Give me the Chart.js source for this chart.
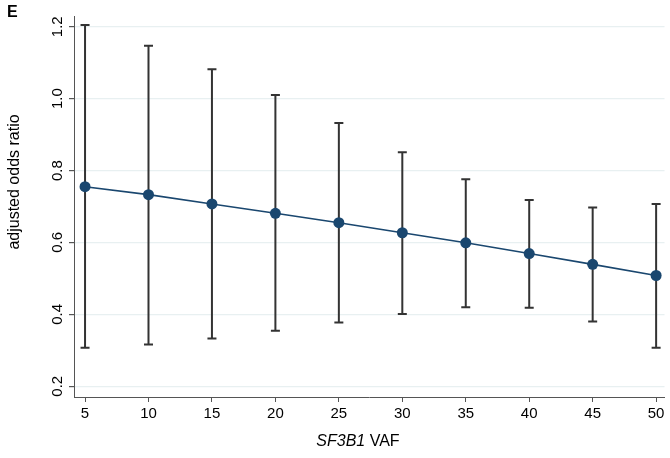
<!DOCTYPE html>
<html>
<head>
<meta charset="utf-8">
<script src="https://cdn.jsdelivr.net/npm/chart.js@4/dist/chart.umd.min.js"></script>
<style>
  body { margin: 0; background: #fff; }
  #wrap { width: 670px; height: 458px; position: relative; }
</style>
</head>
<body>
<div id="wrap"><canvas id="or-chart"></canvas></div>
<script>
// values
var vaf = [5, 10, 15, 20, 25, 30, 35, 40, 45, 50];
var oddsRatio = [0.755, 0.733, 0.707, 0.681, 0.655, 0.627, 0.599, 0.569, 0.539, 0.508];
var ciLower = [0.307, 0.316, 0.333, 0.354, 0.377, 0.401, 0.420, 0.418, 0.380, 0.307];
var ciUpper = [1.205, 1.147, 1.082, 1.010, 0.932, 0.851, 0.776, 0.718, 0.697, 0.707];
var xTicks = [5, 10, 15, 20, 25, 30, 35, 40, 45, 50];
var yTicks = [0.2, 0.4, 0.6, 0.8, 1.0, 1.2];

var FONT = "'Liberation Sans', Arial, sans-serif";
var navy = '#1a476f';

// whiskers drawn under the line, through the chart's own scales
var errorBars = {
    id: 'errorBars',
    beforeDatasetsDraw: function (chart) {
        var ctx = chart.ctx, xs = chart.scales.x, ys = chart.scales.y;
        ctx.save();
        ctx.strokeStyle = '#333333';
        ctx.lineWidth = 2;
        for (var i = 0; i < vaf.length; i++) {
            var px = xs.getPixelForValue(vaf[i]);
            var lo = ys.getPixelForValue(ciLower[i]);
            var hi = ys.getPixelForValue(ciUpper[i]);
            ctx.beginPath();
            ctx.moveTo(px, lo); ctx.lineTo(px, hi);
            ctx.moveTo(px - 4.5, lo); ctx.lineTo(px + 4.5, lo);
            ctx.moveTo(px - 4.5, hi); ctx.lineTo(px + 4.5, hi);
            ctx.stroke();
        }
        ctx.restore();
    }
};

// panel letter and axis titles
var labels = {
    id: 'labels',
    afterDraw: function (chart) {
        var ctx = chart.ctx;
        ctx.save();
        ctx.fillStyle = '#000';
        ctx.textBaseline = 'middle';
        ctx.font = 'bold 16px ' + FONT;
        ctx.textAlign = 'left';
        ctx.fillText('E', 7, 13);

        ctx.font = '16px ' + FONT;
        ctx.save();
        ctx.translate(15, 182);
        ctx.rotate(-Math.PI / 2);
        ctx.textAlign = 'center';
        ctx.fillText('adjusted odds ratio', 0, 0);
        ctx.restore();

        var it = 'SF3B1', rest = ' VAF';
        ctx.font = 'italic 16px ' + FONT;
        var w1 = ctx.measureText(it).width;
        ctx.font = '16px ' + FONT;
        var w2 = ctx.measureText(rest).width;
        var x0 = 358 - (w1 + w2) / 2;
        ctx.textAlign = 'left';
        ctx.font = 'italic 16px ' + FONT;
        ctx.fillText(it, x0, 442);
        ctx.font = '16px ' + FONT;
        ctx.fillText(rest, x0 + w1, 442);
        ctx.restore();
    }
};

var ctx = document.getElementById('or-chart').getContext('2d');

var orChart = new Chart(ctx, {
    type: 'line',
    data: {
        datasets: [{
            label: 'adjusted odds ratio',
            data: vaf.map(function (v, i) { return { x: v, y: oddsRatio[i] }; }),
            borderColor: navy,
            backgroundColor: navy,
            borderWidth: 1.6,
            pointRadius: 5.5,
            pointBackgroundColor: navy,
            pointBorderWidth: 0,
            tension: 0
        }]
    },
    options: {
        responsive: true,
        maintainAspectRatio: false,
        animation: false,
        layout: { padding: { top: 16, right: 0, left: 0, bottom: 0 } },
        plugins: {
            legend: { display: false },
            tooltip: { enabled: false }
        },
        scales: {
            x: {
                type: 'linear',
                min: 4.13,
                max: 50.66,
                afterBuildTicks: function (scale) {
                    scale.ticks = xTicks.map(function (v) { return { value: v }; });
                },
                afterFit: function (scale) {
                    scale.height = 61;
                    scale.paddingRight = 0;
                },
                border: { color: '#555', width: 1 },
                grid: { drawOnChartArea: false, drawTicks: true, tickLength: 5, tickColor: '#555' },
                ticks: {
                    color: '#000',
                    font: { family: FONT, size: 15 },
                    padding: 3,
                    maxRotation: 0,
                    minRotation: 0
                }
            },
            y: {
                type: 'linear',
                min: 0.17,
                max: 1.23,
                afterBuildTicks: function (scale) {
                    scale.ticks = yTicks.map(function (v) { return { value: v }; });
                },
                afterFit: function (scale) { scale.width = 74; },
                border: { color: '#555', width: 1 },
                grid: { color: '#e8f0f1', lineWidth: 1.2, tickLength: 5, tickColor: '#555' },
                ticks: {
                    color: '#000',
                    font: { family: FONT, size: 15 },
                    crossAlign: 'center',
                    minRotation: 90,
                    maxRotation: 90,
                    padding: 1,
                    callback: function (v) { return v.toFixed(1); }
                }
            }
        }
    },
    plugins: [errorBars, labels]
});
</script>
</body>
</html>
